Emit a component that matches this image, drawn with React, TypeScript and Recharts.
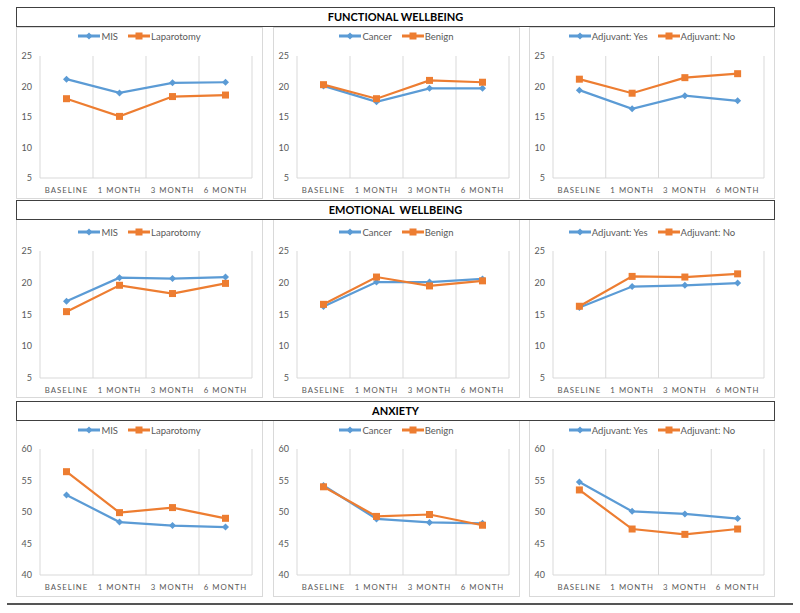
import React from 'react';
import { LineChart, Line, XAxis, YAxis, CartesianGrid, Legend } from 'recharts';

const categories = ['BASELINE', '1 MONTH', '3 MONTH', '6 MONTH'];

// functional wellbeing
const misFunctional = [21.2, 18.95, 20.6, 20.7];
const lapFunctional = [18.0, 15.1, 18.35, 18.6];
const cancerFunctional = [20.1, 17.5, 19.7, 19.7];
const benignFunctional = [20.3, 18.0, 21.0, 20.7];
const adjYesFunctional = [19.4, 16.35, 18.5, 17.65];
const adjNoFunctional = [21.2, 18.9, 21.45, 22.1];

// emotional wellbeing
const misEmotional = [17.1, 20.8, 20.65, 20.9];
const lapEmotional = [15.45, 19.6, 18.3, 19.9];
const cancerEmotional = [16.25, 20.1, 20.1, 20.6];
const benignEmotional = [16.6, 20.9, 19.5, 20.3];
const adjYesEmotional = [16.1, 19.4, 19.6, 19.95];
const adjNoEmotional = [16.3, 21.0, 20.9, 21.4];

// anxiety
const misAnxiety = [52.7, 48.4, 47.85, 47.6];
const lapAnxiety = [56.4, 49.9, 50.7, 49.0];
const cancerAnxiety = [54.2, 48.9, 48.35, 48.2];
const benignAnxiety = [54.0, 49.3, 49.6, 47.9];
const adjYesAnxiety = [54.75, 50.1, 49.7, 48.95];
const adjNoAnxiety = [53.5, 47.3, 46.45, 47.3];

const wellbeingTicks = [5, 10, 15, 20, 25];
const anxietyTicks = [40, 45, 50, 55, 60];

const sectionTitles = ['FUNCTIONAL WELLBEING', 'EMOTIONAL  WELLBEING', 'ANXIETY'];
const groupNames: [string, string][] = [
    ['MIS', 'Laparotomy'],
    ['Cancer', 'Benign'],
    ['Adjuvant: Yes', 'Adjuvant: No'],
];

const BLUE = '#5b9bd5';
const ORANGE = '#ed7d31';
const GRID = '#d9d9d9';
const TEXT = '#595959';
const FONT = 'Lato, "Liberation Sans", sans-serif';

const Diamond = (props: any) => {
    const { cx, cy, index } = props;
    if (cx == null || cy == null) return <g key={index} />;
    const r = 3.5;
    return <path key={index} d={`M${cx},${cy - r}L${cx + r},${cy}L${cx},${cy + r}L${cx - r},${cy}Z`} fill={BLUE} />;
};

const Square = (props: any) => {
    const { cx, cy, index } = props;
    if (cx == null || cy == null) return <g key={index} />;
    return <rect key={index} x={cx - 3.5} y={cy - 3.5} width={7} height={7} fill={ORANGE} />;
};

const LegendIcon = ({ color, square }: { color: string; square: boolean }) => (
    <svg width={22} height={8} style={{ marginRight: 1 }}>
        <line x1={0} y1={4} x2={22} y2={4} stroke={color} strokeWidth={3} />
        {square
            ? <rect x={7.5} y={0.5} width={7} height={7} fill={color} />
            : <path d="M11,0.5L14.5,4L11,7.5L7.5,4Z" fill={color} />}
    </svg>
);

const makeLegend = (names: [string, string]) => () => (
    <div style={{ height: 18, display: 'flex', justifyContent: 'center', alignItems: 'center', fontFamily: FONT, fontSize: 9.5, color: TEXT }}>
        <span style={{ display: 'flex', alignItems: 'center', marginRight: 10 }}>
            <LegendIcon color={BLUE} square={false} />{names[0]}
        </span>
        <span style={{ display: 'flex', alignItems: 'center' }}>
            <LegendIcon color={ORANGE} square={true} />{names[1]}
        </span>
    </div>
);

interface PanelProps {
    a: number[];
    b: number[];
    names: [string, string];
    ticks: number[];
    width: number;
    height: number;
    legendCenter: number;
    plotTop: number;
    plotBottom: number;
}

const Panel: React.FC<PanelProps> = ({ a, b, names, ticks, width, height, legendCenter, plotTop, plotBottom }) => {
    const data = categories.map((name, i) => ({ name, a: a[i], b: b[i] }));
    return (
        <LineChart
            width={width}
            height={height}
            data={data}
            margin={{ top: plotTop - 18, right: 11, left: 0, bottom: plotBottom - 20 }}
        >
            <CartesianGrid
                horizontal={false}
                stroke={GRID}
                verticalCoordinatesGenerator={({ offset }: any) =>
                    categories.map((_, i) => offset.left + (i * offset.width) / categories.length)
                        .concat(offset.left + offset.width)
                }
            />
            <XAxis
                dataKey="name"
                scale="band"
                height={20}
                axisLine={{ stroke: GRID }}
                tickLine={false}
                tickMargin={3}
                interval={0}
                tick={{ fontSize: 7.8, fill: TEXT, fontFamily: FONT, letterSpacing: 1 }}
            />
            <YAxis
                domain={[ticks[0], ticks[ticks.length - 1]]}
                ticks={ticks}
                width={24}
                axisLine={false}
                tickLine={false}
                tickMargin={2}
                tick={{ fontSize: 9, fill: TEXT, fontFamily: FONT }}
            />
            <Legend
                verticalAlign="top"
                align="center"
                wrapperStyle={{ top: legendCenter - 9, left: 0, width }}
                content={makeLegend(names)}
            />
            <Line dataKey="a" stroke={BLUE} strokeWidth={2.2} dot={Diamond} activeDot={false} isAnimationActive={false} />
            <Line dataKey="b" stroke={ORANGE} strokeWidth={2.2} dot={Square} activeDot={false} isAnimationActive={false} />
        </LineChart>
    );
};

const rows = [
    { titleTop: 7, panelTop: 27, height: 172, legendCenter: 9, plotTop: 29, plotBottom: 21, ticks: wellbeingTicks,
        series: [[misFunctional, lapFunctional], [cancerFunctional, benignFunctional], [adjYesFunctional, adjNoFunctional]] },
    { titleTop: 200, panelTop: 219, height: 179, legendCenter: 13, plotTop: 32, plotBottom: 20, ticks: wellbeingTicks,
        series: [[misEmotional, lapEmotional], [cancerEmotional, benignEmotional], [adjYesEmotional, adjNoEmotional]] },
    { titleTop: 401, panelTop: 419, height: 178, legendCenter: 11, plotTop: 30, plotBottom: 22, ticks: anxietyTicks,
        series: [[misAnxiety, lapAnxiety], [cancerAnxiety, benignAnxiety], [adjYesAnxiety, adjNoAnxiety]] },
];

const columns = [
    { left: 16, width: 247 },
    { left: 273, width: 247 },
    { left: 529, width: 246 },
];

export default function App() {
    return (
        <div style={{ position: 'absolute', left: 0, top: 0, width: 800, height: 613, background: '#fff', fontFamily: FONT }}>
            {rows.map((row, r) => (
                <React.Fragment key={r}>
                    {columns.map((col, c) => (
                        <div
                            key={c}
                            style={{
                                position: 'absolute', left: col.left, top: row.panelTop, width: col.width, height: row.height,
                                border: `1px solid ${GRID}`, boxSizing: 'border-box',
                            }}
                        >
                            <div style={{ position: 'absolute', left: -1, top: -1 }}>
                                <Panel
                                    a={row.series[c][0]}
                                    b={row.series[c][1]}
                                    names={groupNames[c]}
                                    ticks={row.ticks}
                                    width={col.width}
                                    height={row.height}
                                    legendCenter={row.legendCenter}
                                    plotTop={row.plotTop}
                                    plotBottom={row.plotBottom}
                                />
                            </div>
                        </div>
                    ))}
                    <div
                        style={{
                            position: 'absolute', left: 16, top: row.titleTop, width: 759, height: 20, boxSizing: 'border-box',
                            border: '1px solid #404040', background: '#fff', textAlign: 'center', lineHeight: '18px',
                            fontWeight: 700, fontSize: 11, color: '#000', whiteSpace: 'pre',
                        }}
                    >
                        {sectionTitles[r]}
                    </div>
                </React.Fragment>
            ))}
            <div style={{ position: 'absolute', left: 7, top: 603, width: 786, height: 2, background: '#555' }} />
        </div>
    );
}
